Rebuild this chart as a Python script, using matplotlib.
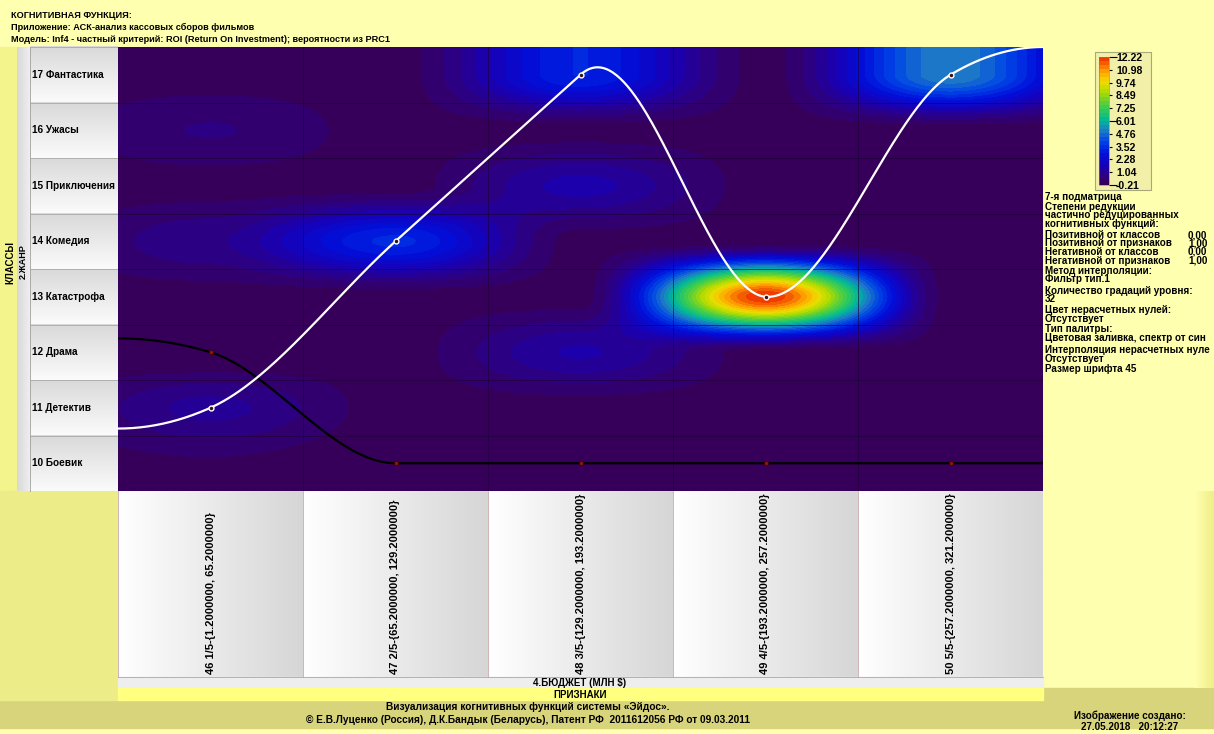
import numpy as np
import matplotlib
matplotlib.use("Agg")
import matplotlib.pyplot as plt
from matplotlib.colors import LinearSegmentedColormap, Normalize, to_rgb
from matplotlib.patches import Rectangle

plt.rcParams['font.family'] = ['Liberation Sans', 'DejaVu Sans']
plt.rcParams['font.weight'] = 'bold'

# --- данные ---
class_names = ["10 Боевик", "11 Детектив", "12 Драма", "13 Катастрофа",
               "14 Комедия", "15 Приключения", "16 Ужасы", "17 Фантастика"]
class_codes = [10, 11, 12, 13, 14, 15, 16, 17]
feature_names = ["46 1/5-{1.2000000, 65.2000000}",
                 "47 2/5-{65.2000000, 129.2000000}",
                 "48 3/5-{129.2000000, 193.2000000}",
                 "49 4/5-{193.2000000, 257.2000000}",
                 "50 5/5-{257.2000000, 321.2000000}"]
feature_pos = [1, 2, 3, 4, 5]

# значения ROI по классам (строки) и признакам (столбцы)
roi_10 = [0.15, -0.10, -0.10, -0.10, -0.10]
roi_11 = [1.10, 0.00, 0.00, 0.00, 0.00]
roi_12 = [-0.21, 0.00, 1.40, 0.00, 0.00]
roi_13 = [0.00, 0.00, 0.00, 12.22, 0.00]
roi_14 = [0.90, 3.40, 0.00, 0.00, 0.00]
roi_15 = [0.00, 0.00, 1.50, 0.00, 0.00]
roi_16 = [0.60, 0.00, 0.00, 0.00, 0.00]
roi_17 = [0.00, 0.00, 3.30, 0.00, 5.20]

max_class = [11, 14, 17, 13, 17]   # белая линия
min_class = [12, 10, 10, 10, 10]   # черная линия

cbar_ticks = [-0.21, 1.04, 2.28, 3.52, 4.76, 6.01, 7.25, 8.49, 9.74, 10.98, 12.22]

header_lines = ["КОГНИТИВНАЯ ФУНКЦИЯ:",
                "Приложение: АСК-анализ кассовых сборов фильмов",
                "Модель: Inf4 - частный критерий: ROI (Return On Investment); вероятности из PRC1"]

panel_lines = [("7-я подматрица", 197), ("Степени редукции", 207),
               ("частично редуцированных", 215.5), ("когнитивных функций:", 224),
               ("Позитивной от классов", 235), ("Позитивной от признаков", 243.5),
               ("Негативной от классов", 252), ("Негативной от признаков", 260.5),
               ("Метод интерполяции:", 271), ("Фильтр тип.1", 279.5),
               ("Количество градаций уровня:", 291), ("32", 299.5),
               ("Цвет нерасчетных нулей:", 310), ("Отсутствует", 318.5),
               ("Тип палитры:", 329), ("Цветовая заливка, спектр от син", 338),
               ("Интерполяция нерасчетных нуле", 350), ("Отсутствует", 358.5),
               ("Размер шрифта 45", 369)]
reduction_values = [("0,00", 235), ("1,00", 243.5), ("0,00", 252), ("1,00", 260.5)]

Z = np.array([roi_10, roi_11, roi_12, roi_13, roi_14, roi_15, roi_16, roi_17])

W, H = 1214, 734
PALE = '#FFFFB0'
KHAKI = '#D8D47C'

cmap = LinearSegmentedColormap.from_list("eidos", [
    (0.00, '#36005A'), (0.06, '#2E0080'), (0.14, '#1A00B4'), (0.24, '#0010DC'),
    (0.34, '#0046E6'), (0.42, '#1E78C8'), (0.50, '#00B4A0'), (0.58, '#28C864'),
    (0.66, '#64D232'), (0.74, '#B4DC00'), (0.82, '#F0DC00'), (0.90, '#FFA000'),
    (1.00, '#F03C00')], N=32)
norm = Normalize(vmin=Z.min(), vmax=Z.max())


def hermite(d):
    d = np.abs(d)
    return np.where(d < 1, 2 * d**3 - 3 * d**2 + 1, 0.0)


def filter_surface(Z, nx=925, ny=444):
    # сглаживание матрицы фильтром Эрмита: по вертикали края продолжены, по горизонтали нули
    zp = np.pad(Z, ((1, 1), (0, 0)), mode='edge')
    zp = np.pad(zp, ((0, 0), (1, 1)), mode='constant')
    xf = 0.5 + (np.arange(nx) + 0.5) / nx * Z.shape[1]
    yf = 0.5 + (np.arange(ny) + 0.5) / ny * Z.shape[0]
    kx = hermite(xf[:, None] - np.arange(zp.shape[1])[None, :])
    ky = hermite(yf[:, None] - np.arange(zp.shape[0])[None, :])
    return ky @ zp @ kx.T


def smooth_line(xk, yk, n=500):
    # кусочно-кубическая кривая (касательные по Акиме), концы продлены до краёв
    xk = np.asarray(xk, float)
    yk = np.asarray(yk, float)
    s = np.diff(yk) / np.diff(xk)
    m = np.concatenate([[3*s[0] - 2*s[1], 2*s[0] - s[1]], s,
                        [2*s[-1] - s[-2], 3*s[-1] - 2*s[-2]]])
    t = np.empty(len(xk))
    for i in range(len(xk)):
        w1 = abs(m[i+3] - m[i+2])
        w2 = abs(m[i+1] - m[i])
        if w1 + w2 == 0:
            t[i] = (m[i+1] + m[i+2]) / 2
        else:
            t[i] = (w1*m[i+1] + w2*m[i+2]) / (w1 + w2)
    t[0] = s[0] / 2
    t[-1] = s[-1] / 2
    xs = np.linspace(xk[0] - 0.5, xk[-1] + 0.5, n)
    ys = np.empty_like(xs)
    for j, x in enumerate(xs):
        if x <= xk[0]:
            d = x - xk[0]
            ys[j] = yk[0] + t[0]*d + t[0]*d*d
        elif x >= xk[-1]:
            d = x - xk[-1]
            ys[j] = yk[-1] + t[-1]*d - t[-1]*d*d
        else:
            k = min(np.searchsorted(xk, x) - 1, len(xk) - 2)
            h = xk[k+1] - xk[k]
            u = (x - xk[k]) / h
            ys[j] = ((2*u**3 - 3*u**2 + 1)*yk[k] + (u**3 - 2*u**2 + u)*h*t[k]
                     + (-2*u**3 + 3*u**2)*yk[k+1] + (u**3 - u**2)*h*t[k+1])
    return xs, ys


def gradient(ax, x0, x1, y0, y1, c0, c1, horizontal=True):
    c0, c1 = np.array(to_rgb(c0)), np.array(to_rgb(c1))
    g = np.linspace(0, 1, 64)[:, None] * (c1 - c0) + c0
    arr = g[None, :, :] if horizontal else g[:, None, :]
    ax.imshow(arr, extent=(x0, x1, y1, y0), aspect='auto', interpolation='bilinear', zorder=1)


fig = plt.figure(figsize=(W / 100, H / 100), dpi=100, facecolor=PALE)

# фон и рамки в пикселях
bg = fig.add_axes([0, 0, 1, 1], zorder=0)
bg.set_xlim(0, W)
bg.set_ylim(H, 0)
bg.axis('off')
bg.add_patch(Rectangle((0, 0), W, H, color=PALE, zorder=0))
bg.add_patch(Rectangle((0, 700), W, 28, color=KHAKI, zorder=1))
bg.add_patch(Rectangle((1043, 688), W - 1043, 12, color=KHAKI, zorder=1))
bg.add_patch(Rectangle((0, 47), 17, 444, color='#F4F48C', zorder=1))
bg.add_patch(Rectangle((0, 491), 118, 209, color='#ECEC88', zorder=1))
gradient(bg, 1195, W, 491, 688, PALE, '#EEEE88')
gradient(bg, 17, 30, 47, 491, '#D8D8D8', '#EFEFEF')
bg.plot([30, 30], [47, 491], color='#A0A0A0', lw=0.6, zorder=3)

row_h = 444 / len(class_codes)
for i, name in enumerate(class_names):
    y1 = 491 - i * row_h
    y0 = y1 - row_h
    gradient(bg, 30, 118, y0, y1, '#D9D9D9', '#FBFBFB', horizontal=False)
    bg.plot([30, 118], [y0, y0], color='#A8A8A8', lw=0.6, zorder=3)
    bg.text(32, (y0 + y1) / 2, name, fontsize=7.2, va='center', ha='left', zorder=4)

col_w = 925 / len(feature_pos)
for j, name in enumerate(feature_names):
    x0 = 118 + j * col_w
    gradient(bg, x0, x0 + col_w, 491, 677, '#FFFFFF', '#D6D6D6')
    bg.plot([x0, x0], [491, 677], color='#C8A8A8', lw=0.6, zorder=3)
    bg.text(x0 + col_w / 2, 674, name, fontsize=8, rotation=90,
            ha='center', va='bottom', zorder=4)
bg.add_patch(Rectangle((118, 677), 925, 11, color='#EEEEEE', zorder=1))
bg.add_patch(Rectangle((118, 688), 925, 12, color='#FFFF80', zorder=1))
bg.plot([118, 1043], [677, 677], color='#A8A8A8', lw=0.6, zorder=3)
bg.text(580, 683, "4.БЮДЖЕТ (МЛН $)", fontsize=7, ha='center', va='center', zorder=4)
bg.text(580, 694.5, "ПРИЗНАКИ", fontsize=7, ha='center', va='center', zorder=4)

bg.text(10, 262, "КЛАССЫ", fontsize=7, rotation=90, ha='center', va='center', zorder=4)
bg.text(23.5, 262, "2.ЖАНР", fontsize=6.5, rotation=90, ha='center', va='center', zorder=4)

for k, line in enumerate(header_lines):
    bg.text(11, [15.5, 27.5, 39][k], line, fontsize=6.6, ha='left', va='center', zorder=4)

for line, y in panel_lines:
    bg.text(1045, y, line, fontsize=7.1, ha='left', va='center', zorder=4)
for val, y in reduction_values:
    bg.text(1188, y, val, fontsize=7.1, ha='left', va='center', zorder=4)

bg.text(528, 707, "Визуализация когнитивных функций системы «Эйдос».",
        fontsize=7.3, ha='center', va='center', zorder=4)
bg.text(528, 720, "© Е.В.Луценко (Россия), Д.К.Бандык (Беларусь), Патент РФ  2011612056 РФ от 09.03.2011",
        fontsize=7.3, ha='center', va='center', zorder=4)
bg.text(1130, 716, "Изображение создано:", fontsize=7.1, ha='center', va='center', zorder=4)
bg.text(1130, 727, "27.05.2018   20:12:27", fontsize=7.1, ha='center', va='center', zorder=4)

bg.add_patch(Rectangle((1095, 52), 56, 138, facecolor='#F2F0A8', edgecolor='#A8A878',
                       lw=0.8, zorder=1))

# когнитивная функция
ax = fig.add_axes([118 / W, 1 - 491 / H, 925 / W, 444 / H], zorder=1)
im = ax.imshow(filter_surface(Z), origin='lower', extent=(0.5, 5.5, 9.5, 17.5),
               aspect='auto', cmap=cmap, norm=norm, interpolation='nearest')
for x in np.arange(1.5, 5.5, 1):
    ax.axvline(x, color='#1A0035', lw=0.6, alpha=0.7)
for y in np.arange(10.5, 17.5, 1):
    ax.axhline(y, color='#1A0035', lw=0.6, alpha=0.7)

xs, ys = smooth_line(feature_pos, min_class)
ax.plot(xs, ys, color='black', lw=1.6, zorder=3)
ax.plot(feature_pos, min_class, 'o', ms=3, mfc='#8A1A00', mec='#3A0000', mew=0.5, zorder=4)
xs, ys = smooth_line(feature_pos, max_class)
ax.plot(xs, ys, color='white', lw=1.6, zorder=3)
ax.plot(feature_pos, max_class, 'o', ms=3.5, mfc='#3A1010', mec='white', mew=1, zorder=4)

ax.set_xlim(0.5, 5.5)
ax.set_ylim(9.5, 17.5)
ax.set_xticks([])
ax.set_yticks([])
for sp in ax.spines.values():
    sp.set_visible(False)

cax = fig.add_axes([1099 / W, 1 - 185 / H, 10 / W, 128 / H], zorder=2)
cb = fig.colorbar(im, cax=cax, ticks=cbar_ticks)
cb.ax.set_yticklabels([f"{v:.2f}" for v in cbar_ticks])
cb.ax.tick_params(labelsize=7.6, length=2, width=0.8, pad=3)
cb.outline.set_linewidth(0.4)
cb.outline.set_edgecolor('#808060')
for i, tk in enumerate(cb.ax.yaxis.get_major_ticks()):
    tk.tick2line.set_markersize(6 if i in (0, 5, 10) else 2)

fig.savefig("out.png", dpi=100, facecolor=PALE)
